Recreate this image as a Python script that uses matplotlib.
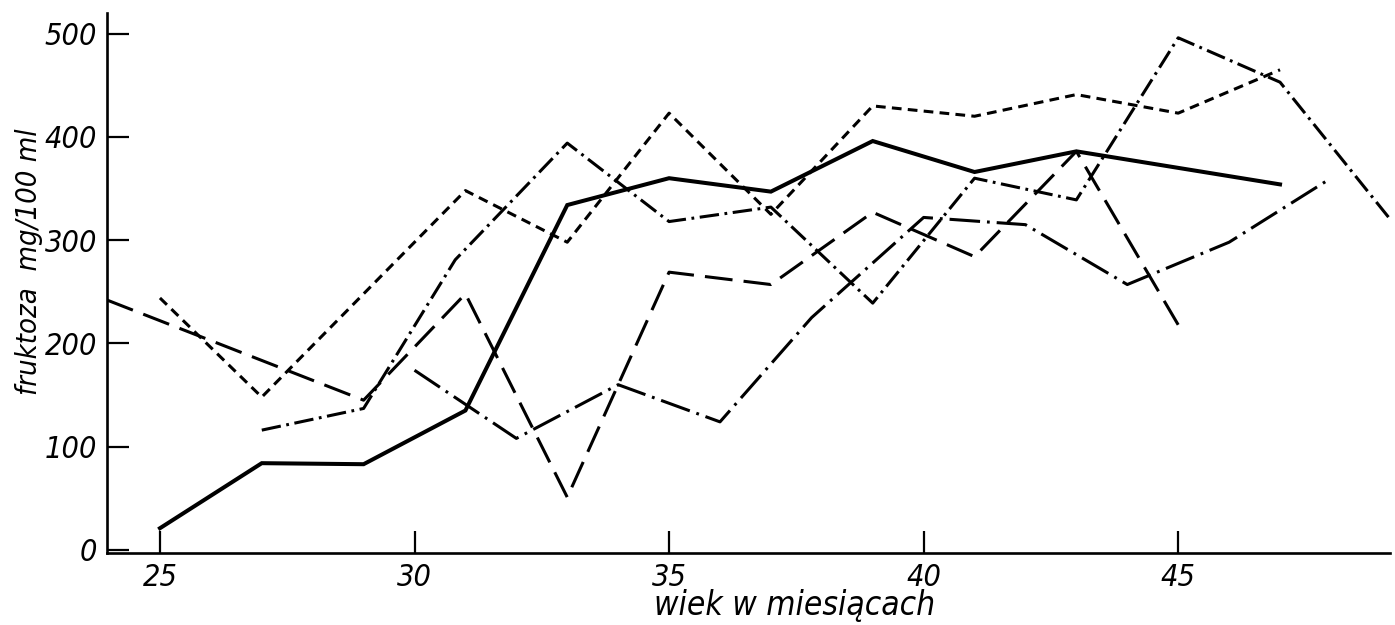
import matplotlib
matplotlib.use("Agg")
import matplotlib.pyplot as plt

plt.rcParams['font.family'] = ['DejaVu Sans']
plt.rcParams['font.style'] = 'italic'
plt.rcParams['font.stretch'] = 'condensed'
plt.rcParams['lines.scale_dashes'] = False

# age in months / fructose mg per 100 ml, one list per animal
solid_x = [25, 27, 29, 31, 33, 35, 37, 39, 41, 43, 47]
solid_v = [21, 84, 83, 135, 334, 360, 347, 396, 366, 386, 354]

short_x = [25, 27, 31, 33, 35, 37, 39, 41, 43, 45, 47]
short_v = [244, 148, 348, 298, 423, 325, 430, 420, 441, 423, 465]

long_x = [23.96, 29, 31, 33, 35, 37, 39, 41, 43, 45]
long_v = [242, 145, 248, 51, 269, 257, 327, 284, 386, 218]

dd_x = [27, 29, 30.8, 33, 35, 37, 39, 41, 43, 45, 47, 49.2]
dd_v = [116, 137, 281, 394, 318, 332, 239, 360, 339, 496, 453, 318]

dot_x = [30, 32, 34, 36, 37.8, 40, 42, 44, 46, 48]
dot_v = [174, 108, 160, 124, 225, 322, 315, 257, 298, 360]

xticks = [25, 30, 35, 40, 45]
yticks = [0, 100, 200, 300, 400, 500]

fig = plt.figure(figsize=(13.95, 6.25), dpi=100)
ax = fig.add_axes([107/1395, 72/625, 1283/1395, 540/625])

ax.plot(solid_x, solid_v, color='black', lw=2.9, solid_joinstyle='miter')
ax.plot(short_x, short_v, color='black', lw=2.2, dashes=(7, 4.5))
ax.plot(long_x, long_v, color='black', lw=2.2, dashes=(20, 8))
ax.plot(dd_x, dd_v, color='black', lw=2.2, dashes=(14, 4, 2, 4))
ax.plot(dot_x, dot_v, color='black', lw=2.2, dashes=(22, 5, 2, 5))

ax.set_xlim(23.96, 49.16)
ax.set_ylim(-3, 520)
ax.set_xticks(xticks)
ax.set_yticks(yticks)

for s in ['top', 'right']:
    ax.spines[s].set_visible(False)
for s in ['left', 'bottom']:
    ax.spines[s].set_linewidth(1.9)

ax.tick_params(direction='in', length=16, width=1.6, labelsize=22, pad=7)

ax.set_xlabel('wiek w miesiącach', fontsize=24)
ax.xaxis.set_label_coords(0.536, -0.066)
ax.set_ylabel('fruktoza  mg/100 ml', fontsize=21)
ax.yaxis.set_label_coords(-0.05, 0.54)

fig.savefig('out.png', dpi=100)
